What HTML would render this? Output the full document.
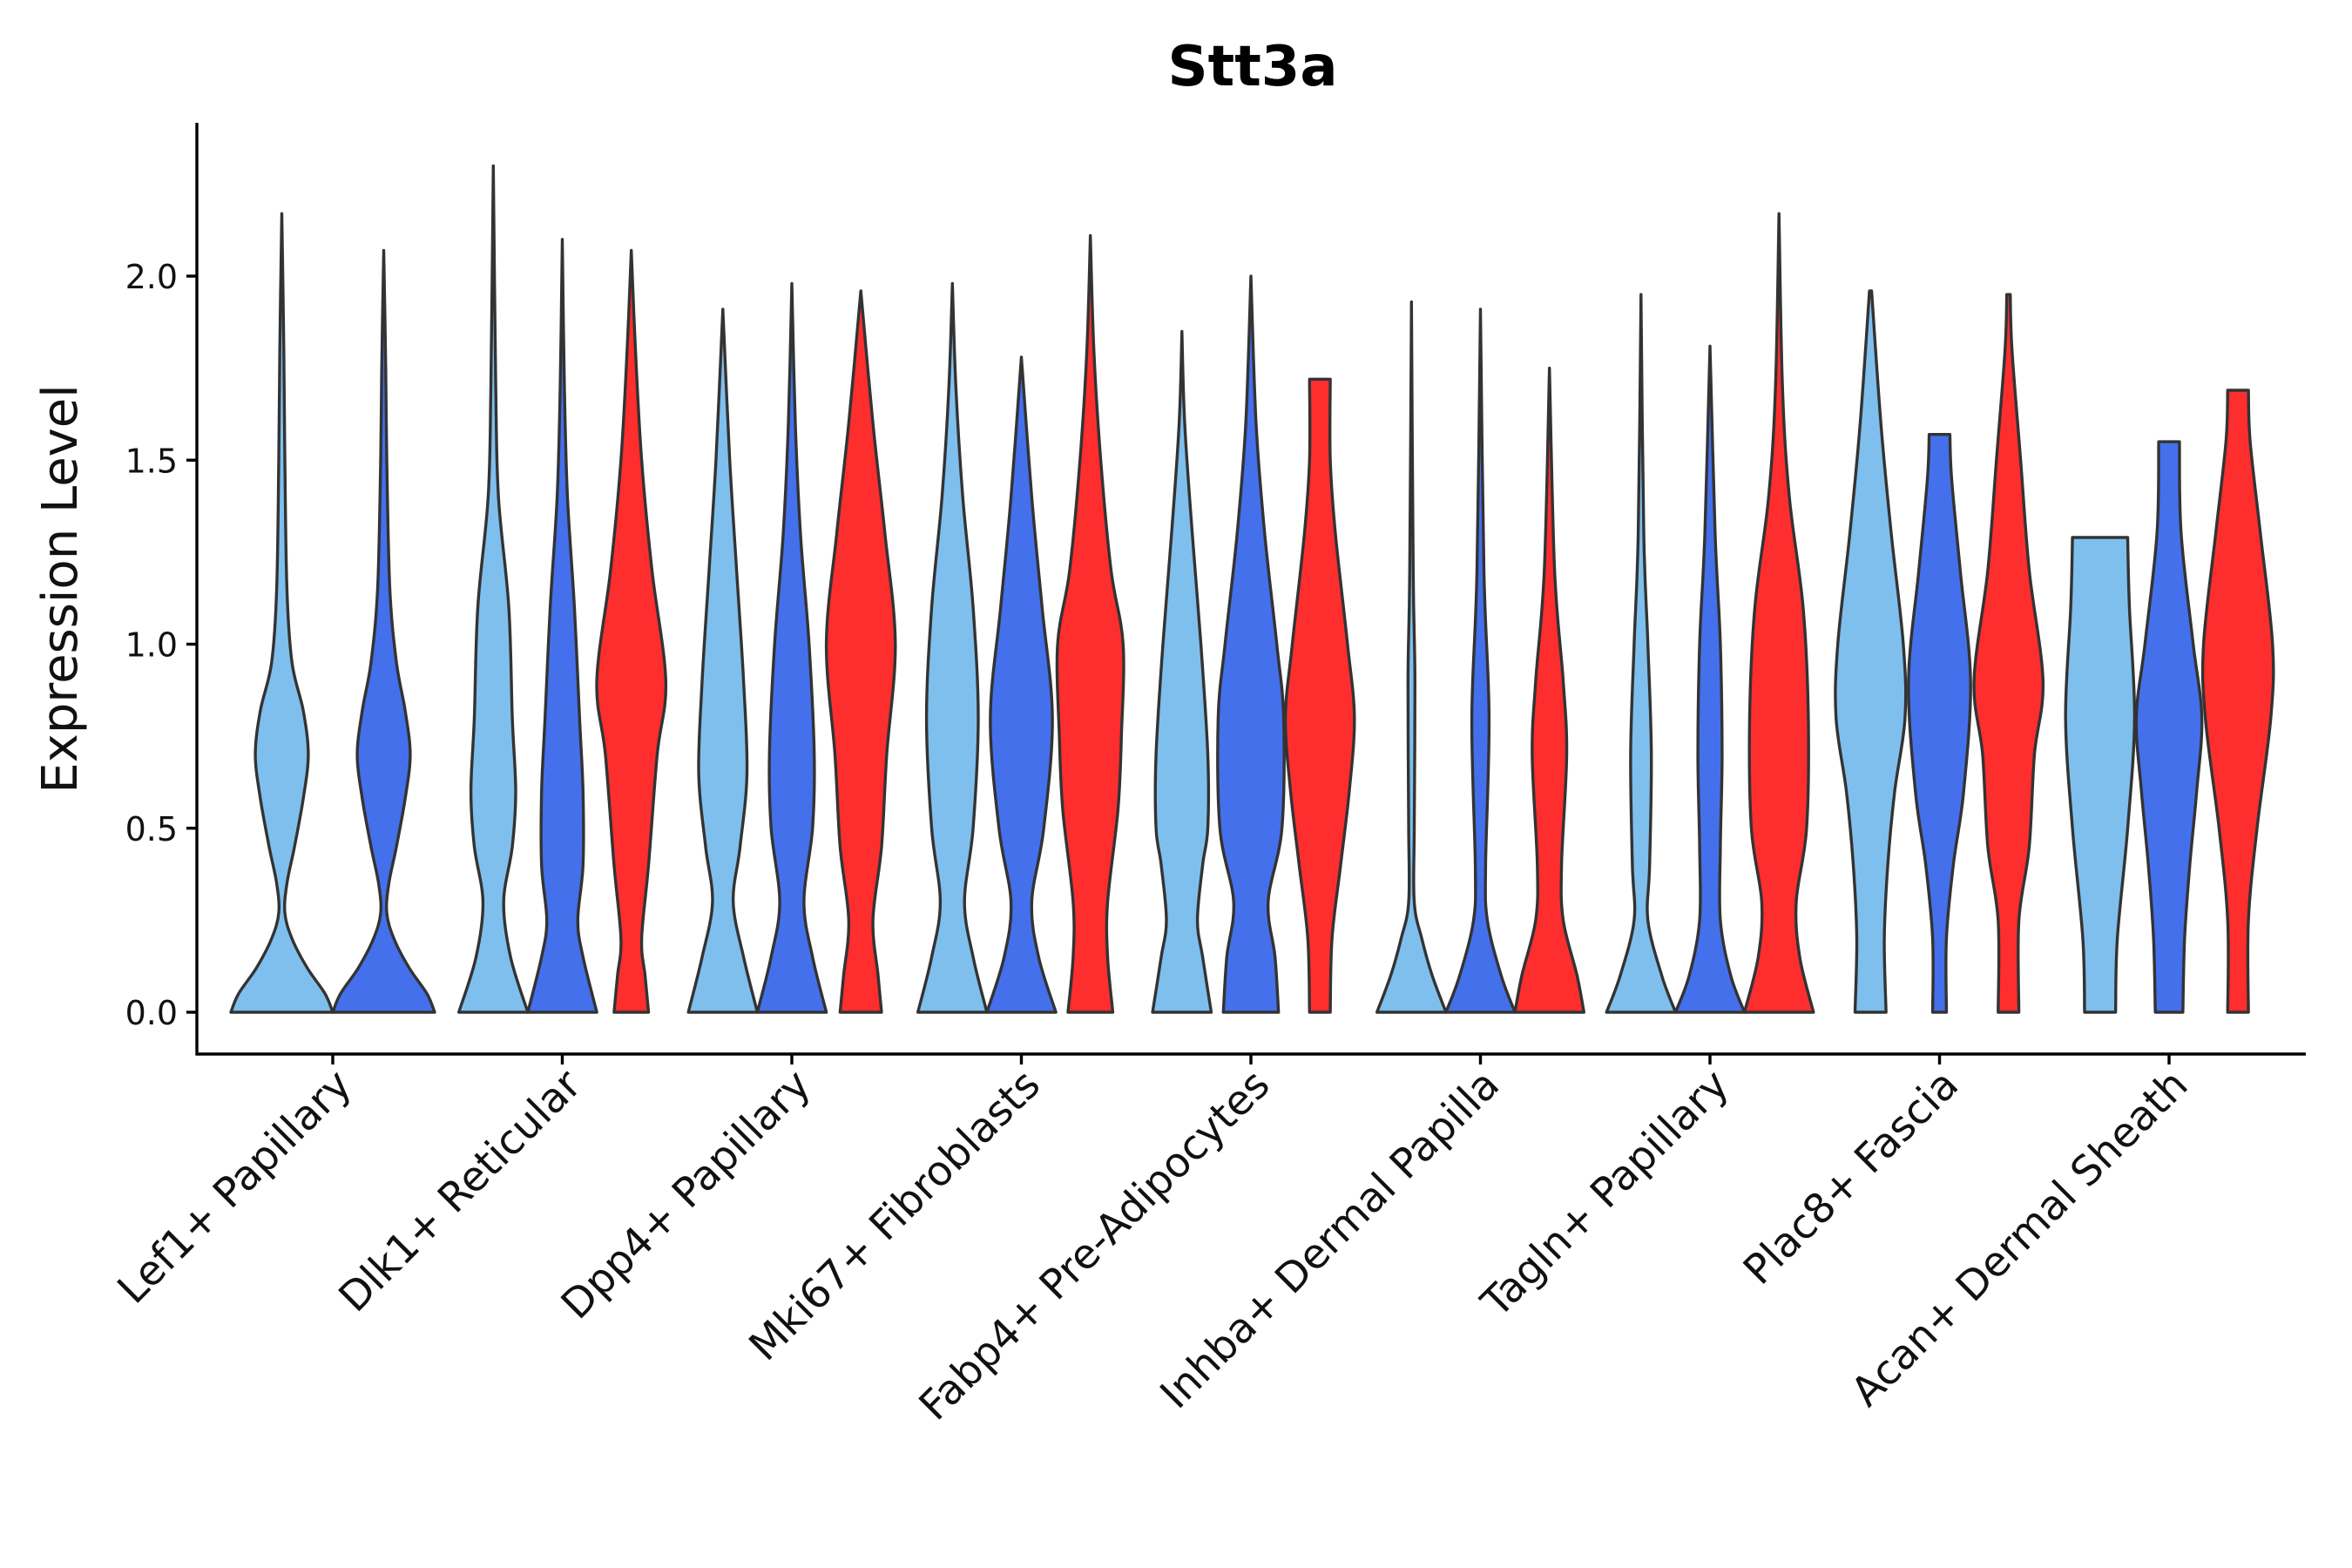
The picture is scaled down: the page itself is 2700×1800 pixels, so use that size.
<!DOCTYPE html>
<html><head><meta charset="utf-8"><style>
html,body{margin:0;padding:0;background:#fff;}
svg{display:block;font-family:"DejaVu Sans","Liberation Sans",sans-serif;}
</style></head><body>
<svg id="chart" width="2700" height="1800" viewBox="0 0 2700 1800">
<text x="1438" y="98" text-anchor="middle" font-size="64" font-weight="bold">Stt3a</text>
<g id="violins"></g>
<g id="axes"></g>
</svg>
<script>
const categories = ["Lef1+ Papillary","Dlk1+ Reticular","Dpp4+ Papillary","Mki67+ Fibroblasts","Fabp4+ Pre-Adipocytes","Inhba+ Dermal Papilla","Tagln+ Papillary","Plac8+ Fascia","Acan+ Dermal Sheath"];
const groupNames = ["light","blue","red"];
const groupColors = ["#7fbfed","#4470ec","#ff2e2e"];
const yTicks = [0,0.5,1.0,1.5,2.0];
const yTickLabels = ["0.0","0.5","1.0","1.5","2.0"];
const lightProfiles = [
 [[0,1],[0.05,0.85],[0.12,0.5],[0.2,0.2],[0.27,0.06],[0.35,0.1],[0.45,0.25],[0.58,0.42],[0.7,0.52],[0.82,0.42],[0.95,0.2],[1.15,0.1],[1.5,0.06],[1.8,0.04],[2.17,0]],
 [[0,1],[0.15,0.5],[0.3,0.3],[0.45,0.55],[0.6,0.65],[0.8,0.55],[1.1,0.45],[1.4,0.15],[1.7,0.07],[2.3,0]],
 [[0,1],[0.15,0.6],[0.3,0.3],[0.45,0.5],[0.65,0.7],[0.9,0.6],[1.2,0.4],[1.5,0.2],[1.91,0]],
 [[0,1],[0.15,0.6],[0.3,0.35],[0.5,0.6],[0.8,0.75],[1.1,0.6],[1.4,0.3],[1.7,0.1],[1.98,0]],
 [[0,0.85],[0.15,0.6],[0.25,0.45],[0.4,0.6],[0.5,0.75],[0.7,0.75],[1.0,0.55],[1.3,0.3],[1.6,0.08],[1.85,0]],
 [[0,1],[0.1,0.6],[0.2,0.3],[0.3,0.08],[0.5,0.08],[0.9,0.1],[1.2,0.05],[1.93,0]],
 [[0,1],[0.1,0.6],[0.25,0.2],[0.4,0.25],[0.7,0.3],[1.0,0.2],[1.3,0.08],[1.95,0]],
 [[0,0.45],[0.2,0.4],[0.4,0.5],[0.6,0.7],[0.8,1],[1.0,0.95],[1.3,0.6],[1.6,0.3],[1.96,0.03]],
 [[0,0.45],[0.2,0.5],[0.5,0.8],[0.8,1],[1.1,0.85],[1.29,0.8]]
];
const blueProfiles = [
 [[0,1],[0.05,0.85],[0.12,0.5],[0.2,0.2],[0.27,0.06],[0.35,0.1],[0.45,0.25],[0.58,0.42],[0.7,0.52],[0.82,0.42],[0.95,0.25],[1.15,0.12],[1.5,0.06],[1.75,0.04],[2.07,0]],
 [[0,1],[0.15,0.6],[0.25,0.45],[0.4,0.6],[0.6,0.6],[0.8,0.5],[1.1,0.35],[1.4,0.15],[1.7,0.06],[2.1,0]],
 [[0,1],[0.15,0.6],[0.3,0.35],[0.5,0.6],[0.7,0.65],[1.0,0.5],[1.3,0.25],[1.6,0.1],[1.98,0]],
 [[0,1],[0.15,0.5],[0.3,0.3],[0.5,0.65],[0.8,0.9],[1.1,0.6],[1.4,0.3],[1.78,0]],
 [[0,0.8],[0.15,0.7],[0.3,0.5],[0.5,0.9],[0.8,0.95],[1.0,0.75],[1.3,0.4],[1.6,0.15],[2.0,0]],
 [[0,1],[0.1,0.6],[0.25,0.2],[0.4,0.15],[0.8,0.25],[1.2,0.1],[1.91,0]],
 [[0,1],[0.1,0.6],[0.25,0.3],[0.45,0.3],[0.7,0.35],[1.0,0.3],[1.3,0.15],[1.81,0]],
 [[0,0.2],[0.2,0.2],[0.4,0.4],[0.6,0.7],[0.9,0.9],[1.2,0.6],[1.45,0.35],[1.57,0.3]],
 [[0,0.4],[0.2,0.45],[0.4,0.6],[0.6,0.8],[0.8,0.95],[1.0,0.7],[1.3,0.35],[1.55,0.3]]
];
const redProfiles = [
 null,
 [[0,0.5],[0.1,0.4],[0.2,0.3],[0.4,0.5],[0.7,0.75],[0.9,1],[1.2,0.6],[1.5,0.3],[1.8,0.12],[2.07,0]],
 [[0,0.6],[0.1,0.5],[0.25,0.35],[0.45,0.6],[0.7,0.75],[1.0,1],[1.3,0.7],[1.6,0.35],[1.96,0]],
 [[0,0.65],[0.15,0.5],[0.3,0.5],[0.55,0.8],[0.75,0.9],[1.0,0.95],[1.2,0.6],[1.5,0.3],[1.8,0.1],[2.11,0]],
 [[0,0.3],[0.2,0.35],[0.4,0.6],[0.6,0.85],[0.8,1],[1.0,0.8],[1.3,0.45],[1.5,0.3],[1.72,0.3]],
 [[0,1],[0.1,0.8],[0.25,0.4],[0.4,0.35],[0.7,0.5],[0.9,0.4],[1.2,0.15],[1.75,0]],
 [[0,1],[0.15,0.6],[0.3,0.5],[0.5,0.8],[0.8,0.85],[1.1,0.7],[1.4,0.3],[1.7,0.1],[2.17,0]],
 [[0,0.3],[0.25,0.3],[0.45,0.6],[0.7,0.75],[0.9,1],[1.2,0.6],[1.5,0.35],[1.8,0.1],[1.95,0.05]],
 [[0,0.3],[0.25,0.3],[0.5,0.55],[0.8,0.95],[1.0,1],[1.3,0.65],[1.55,0.35],[1.69,0.3]]
];

const NS="http://www.w3.org/2000/svg";
const plotL=226, plotR=2647, axisY=1210, axisTop=141;
const y0px=1162, y2px=317;
function yScale(v){return y0px+(y2px-y0px)*v/2;}
const catStart=382, catStep=263.5;
function xScale(i){return catStart+i*catStep;}

function smooth(pts){
  let d="M"+pts[0][0]+","+pts[0][1];
  for(let i=0;i<pts.length-1;i++){
    const p0=pts[Math.max(0,i-1)],p1=pts[i],p2=pts[i+1],p3=pts[Math.min(pts.length-1,i+2)];
    const c1x=p1[0]+(p2[0]-p0[0])/6,c1y=p1[1]+(p2[1]-p0[1])/6;
    const c2x=p2[0]-(p3[0]-p1[0])/6,c2y=p2[1]-(p3[1]-p1[1])/6;
    d+=" C"+c1x.toFixed(1)+","+c1y.toFixed(1)+" "+c2x.toFixed(1)+","+c2y.toFixed(1)+" "+p2[0].toFixed(1)+","+p2[1].toFixed(1);
  }
  return d;
}
function violinPath(cx,hw,prof){
  const right=prof.map(p=>[cx+p[1]*hw,yScale(p[0])]);
  const left=prof.map(p=>[cx-p[1]*hw,yScale(p[0])]).reverse();
  let d=smooth(right);
  d+=" L"+left[0][0].toFixed(1)+","+left[0][1].toFixed(1);
  d+=smooth(left).replace(/^M[^ C]+/,"");
  return d+" Z";
}
const vg=document.getElementById("violins");
const allProfiles=[lightProfiles,blueProfiles,redProfiles];
categories.forEach((c,i)=>{
  const present=[0,1,2].filter(g=>allProfiles[g][i]);
  const n=present.length;
  const slot=n===3?79.2:117;
  present.forEach((g,k)=>{
    const cx=xScale(i)+(k-(n-1)/2)*slot;
    const p=document.createElementNS(NS,"path");
    p.setAttribute("d",violinPath(cx,slot/2,allProfiles[g][i]));
    p.setAttribute("fill",groupColors[g]);
    p.setAttribute("stroke","#333");
    p.setAttribute("stroke-width","3.4");
    p.setAttribute("stroke-linejoin","round");
    
    
    vg.appendChild(p);
  });
});
const ag=document.getElementById("axes");
function add(tag,attrs,txt){const e=document.createElementNS(NS,tag);for(const k in attrs)e.setAttribute(k,attrs[k]);if(txt!==undefined)e.textContent=txt;ag.appendChild(e);return e;}
const ya=add("line",{x1:plotL,y1:axisTop,x2:plotL,y2:axisY+1.5,stroke:"#000","stroke-width":3.4});


const xa=add("line",{x1:plotL-1.5,y1:axisY,x2:plotR,y2:axisY,stroke:"#000","stroke-width":3.4});


yTicks.forEach((v,i)=>{
  const y=yScale(v);
  const t=add("line",{x1:plotL-12,y1:y,x2:plotL,y2:y,stroke:"#000","stroke-width":3.4});
  
  
  const l=add("text",{x:plotL-22,y:y+14,"text-anchor":"end","font-size":38,fill:"#111"},yTickLabels[i]);
  
  
});
categories.forEach((c,i)=>{
  const x=xScale(i);
  const t=add("line",{x1:x,y1:axisY,x2:x,y2:axisY+12,stroke:"#000","stroke-width":3.4});
  
  
  const l=add("text",{x:x+24,y:axisY+38,"text-anchor":"end","font-size":47,fill:"#111",transform:"rotate(-45 "+(x+24)+" "+(axisY+38)+")"},c);
  
  
});
const yt=add("text",{x:0,y:0,"text-anchor":"middle","font-size":56,fill:"#111",transform:"translate(88 676) rotate(-90)"},"Expression Level");


</script>
</body></html>
